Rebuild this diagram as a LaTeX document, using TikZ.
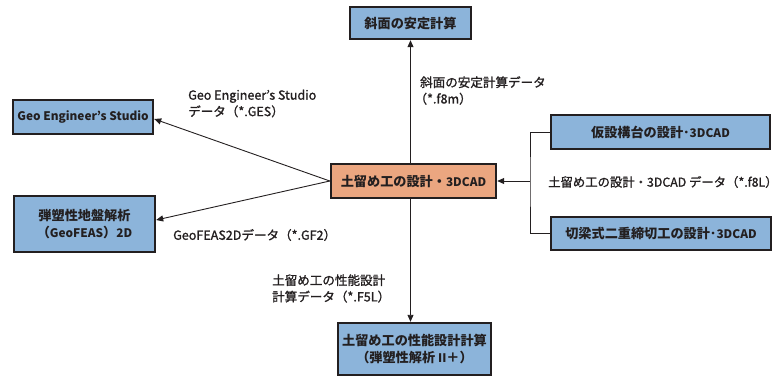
\documentclass[tikz,border=0pt]{standalone}
\usepackage{fontspec}
\setmainfont{Noto Sans CJK JP}
\newfontfamily\lat{Noto Sans CJK JP}[Scale=0.9]
\newfontfamily\lblfont{Noto Sans CJK JP}[FakeBold=1.2]
\usetikzlibrary{arrows.meta}
\definecolor{boxblue}{HTML}{8CB4DA}
\definecolor{boxorange}{HTML}{EBA680}
\definecolor{ink}{HTML}{231F20}
\begin{document}
\begin{tikzpicture}[x=1bp,y=-1bp,
  box/.style={draw=ink,line width=2.4bp,fill=boxblue,text=ink,font=\fontsize{13.2}{16.5}\selectfont\bfseries,align=center,inner sep=0pt},
  mainbox/.style={box,fill=boxorange},
  lbl/.style={text=ink,font=\lblfont\fontsize{12.6}{16.5}\selectfont,align=left,inner sep=0pt,anchor=west},
  conn/.style={draw=ink,line width=0.9bp},
  arr/.style={conn,-{Triangle[length=7bp,width=6bp]}}]
\useasboundingbox (0,0) rectangle (779,379);
\node[box,minimum width=121bp,minimum height=32bp] (top) at (410.5,23) {斜面の安定計算};
\node[mainbox,minimum width=165bp,minimum height=34bp] (main) at (413.5,181) {土留め工の設計・{\lat 3DCAD}};
\node[box,minimum width=153bp,minimum height=52bp] (bot) at (414.5,349) {土留め工の性能設計計算\\（弾塑性解析 {\lat II}＋）};
\node[box,minimum width=140bp,minimum height=34bp] (ges) at (83,117) {\lat Geo Engineer’s Studio};
\node[box,minimum width=141bp,minimum height=56bp] (gf) at (84.5,224) {弾塑性地盤解析\\（{\lat GeoFEAS}）{\lat 2D}};
\node[box,minimum width=219bp,minimum height=34bp] (rt) at (660.5,132) {仮設構台の設計･{\lat 3DCAD}};
\node[box,minimum width=220bp,minimum height=33bp] (rb) at (661,233.5) {切梁式二重締切工の設計･{\lat 3DCAD}};
\coordinate (j) at (530,181);
% connectors
\draw[arr] (main.north -| top.south) -- (top.south);
\draw[arr] (main.south -| top.south) -- (bot.north -| top.south);
\draw[arr] (main.west) -- ([yshift=-2bp]ges.east);
\draw[arr] (main.west) -- ([yshift=4bp]gf.east);
\draw[conn] (rt.west) -| (j) |- (rb.west);
\draw[arr] (j) -- (main.east);
% labels
\node[lbl] (lges) at (188,103.5) {Geo Engineer’s Studio\\データ（*.GES）};
\node[lbl] (lf8m) at (420,90.5) {斜面の安定計算データ\\\kern-0.45em（*.f8m）};
\node[lbl,font=\lblfont\fontsize{12.4}{16.5}\selectfont] (lf8l) at (548,182) {土留め工の設計・3DCAD データ（*.f8L）\kern-0.5em};
\node[lbl] (lgf2) at (173,235) {GeoFEAS2Dデータ（*.GF2）};
\node[lbl] (lf5l) at (272,288.5) {土留め工の性能設計\\計算データ（*.F5L）};
\end{tikzpicture}
\end{document}
